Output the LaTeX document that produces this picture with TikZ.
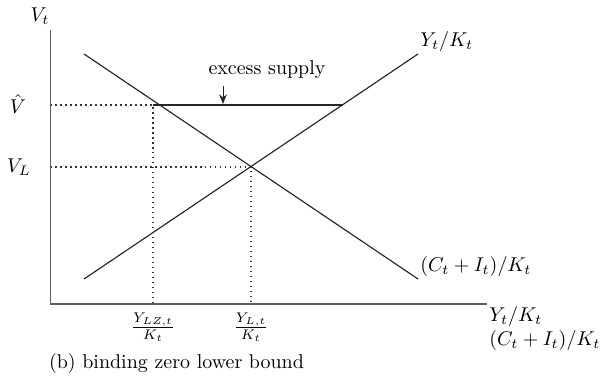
\documentclass[tikz,border=0pt]{standalone}
\usetikzlibrary{arrows.meta}
\begin{document}
\begin{tikzpicture}[x=0.0183cm,y=-0.0183cm,
  every node/.style={scale=1.04},
  axis/.style={draw=gray!75!black,line width=0.9pt},
  curve/.style={draw=black!85,line width=0.6pt},
  guide/.style={draw=black!80,dotted,line width=0.6pt}]
\useasboundingbox (0,0) rectangle (601,376);

% Axes
\coordinate (O) at (50.5,304);
\coordinate (top) at (50.5,30);
\coordinate (right) at (487,304);
\draw[axis] (top) -- (O) -- (right);
\node (vt) at (40,16) {$V_t$};
\node[anchor=north west,align=left,inner sep=1pt] (xlab) at (right) {$Y_t/K_t$\\$(C_t+I_t)/K_t$};

% Curves
\coordinate (d1) at (84,54);
\coordinate (d2) at (418,279);
\coordinate (u1) at (84,279);
\coordinate (u2) at (418,54);
\draw[curve] (d1) -- (d2);
\draw[curve] (u1) -- (u2);
\node[anchor=south west,inner sep=1pt] (ylab) at (u2) {$Y_t/K_t$};
\node[anchor=south west,inner sep=1pt] (dlab) at (d2) {$(C_t+I_t)/K_t$};

% Levels
\coordinate (vh) at (50.5,105);
\coordinate (zl) at (153,105);
\coordinate (zr) at (343,105);
\coordinate (vl) at (50.5,167);
\coordinate (eq) at (251,167);
\draw[guide] (vh) -- (zl) -- (zl |- O);
\draw[guide] (vl) -- (eq) -- (eq |- O);
\draw[line width=1.1pt,black!85] (zl) -- (zr);
\node[inner sep=1pt] (vhat) at (18,104) {$\hat{V}$};
\node[inner sep=1pt] (vlow) at (19,167) {$V_L$};
\node[below=1pt] (ylz) at (zl |- O) {$\frac{Y_{LZ,t}}{K_t}$};
\node[below=1pt] (yl) at (eq |- O) {$\frac{Y_{L,t}}{K_t}$};

% Excess supply
\node (ex) at (267,70) {excess supply};
\coordinate (tip) at (223,104);
\draw[-{Stealth[length=5pt,width=4pt]},black!85] (tip |- ex.south) -- (tip);

% Caption
\node[anchor=west] (cap) at (42,363) {(b) binding zero lower bound};
\end{tikzpicture}
\end{document}
